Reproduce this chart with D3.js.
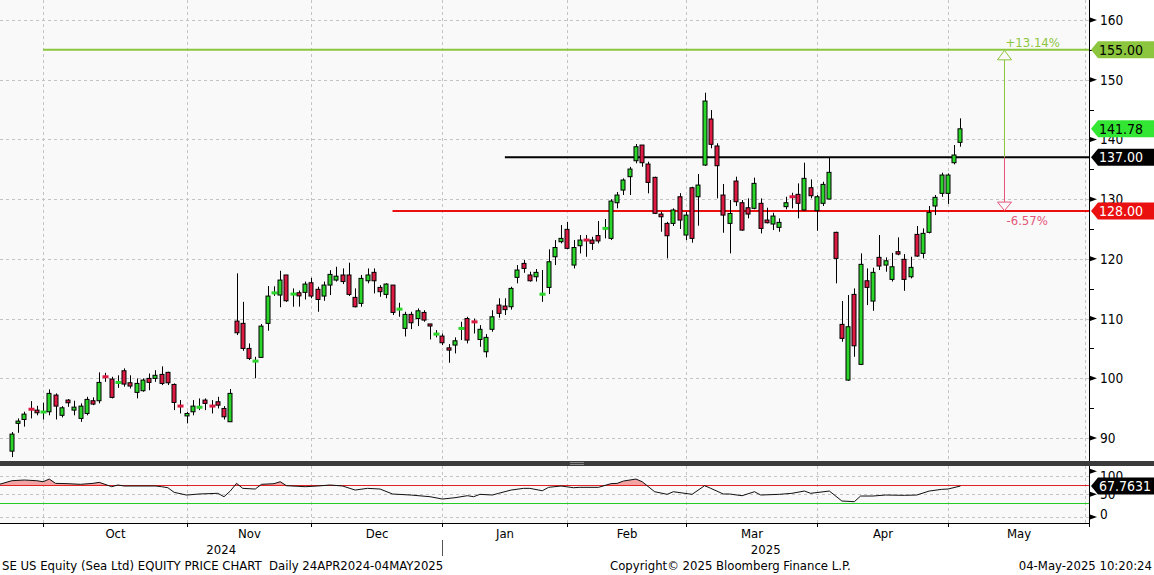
<!DOCTYPE html>
<html><head><meta charset="utf-8">
<script src="https://cdn.jsdelivr.net/npm/d3@7/dist/d3.min.js"></script>
<style>
html,body{margin:0;padding:0;background:#fff;}
svg{display:block;font-family:"DejaVu Sans Condensed","DejaVu Sans",sans-serif;}
text{white-space:pre;}
</style></head><body><svg id="c" width="1154" height="575"></svg>
<script>
// ---------- data (trading-day index 0..152) ----------
const openP = [87.8,92.45,93.1,94.96,94.67,94.3,94.39,97.19,93.8,96.35,94.67,93.28,94.11,96.24,96.24,100.3,99.87,99.25,101.26,99.25,
97.64,97.92,99.98,99.98,100.65,100.99,98.97,95.5,93.7,94.39,95.1,96.35,95.5,96.07,94.95,92.72,109.58,109.2,105.0,102.8,
103.5,109.2,114.2,113.94,117.3,114.05,114.32,114.39,116.0,114.9,113.77,115.61,116.45,117.3,117.3,113.55,112.55,116.33,117.74,115.22,
114.05,115.61,111.5,108.36,110.7,110.0,111.03,109.1,107.35,107.07,105.1,105.56,108.2,110.0,109.6,106.5,104.44,108.2,112.26,112.1,
111.98,116.9,119.24,117.3,117.0,113.94,115.22,120.35,122.87,124.94,118.96,122.2,123.2,123.15,123.9,124.94,123.43,129.4,131.52,133.76,
136.43,139.06,135.88,133.65,127.5,125.94,125.94,130.4,123.99,131.91,130.4,135.71,143.42,138.9,130.69,125.94,133.03,129.4,128.56,128.46,
129.3,126.5,125.83,125.27,128.74,130.45,130.8,128.18,131.91,128.07,129.3,130.02,124.44,109.03,99.7,114.05,102.33,116.33,112.93,120.25,
118.96,116.56,121.2,119.92,117.0,124.1,120.92,124.44,128.85,130.97,130.97,136.1,139.51];
const highP = [91.0,93.28,94.4,96.18,95.39,95.9,98.14,97.47,95.34,96.52,96.24,95.8,96.9,96.8,100.99,100.92,100.25,100.5,101.66,100.5,
99.98,99.98,100.8,101.35,102.0,101.1,99.14,96.35,94.39,96.35,96.63,96.63,96.35,96.9,95.34,98.2,117.57,112.8,105.84,103.6,
109.1,115.44,115.4,118.0,117.3,115.05,114.7,116.2,116.83,115.33,116.2,118.1,118.68,118.4,119.35,115.05,117.3,118.4,118.4,115.6,
115.9,115.61,112.65,111.14,111.14,111.7,111.4,109.1,108.07,107.5,105.73,106.85,109.47,110.3,110.0,108.9,107.4,111.4,113.4,113.4,
115.33,118.96,119.8,117.85,118.3,118.13,121.6,123.15,125.66,126.2,123.15,123.99,124.0,123.7,126.33,126.67,130.0,131.2,133.48,135.4,
139.23,139.06,136.27,133.76,127.89,126.2,128.46,131.0,127.89,132.08,134.2,147.82,144.92,139.35,132.53,129.85,133.76,129.85,130.13,133.6,
130.13,128.56,127.72,126.78,130.4,131.07,132.64,136.1,133.3,130.69,132.92,136.94,124.54,112.93,113.94,115.05,120.92,118.4,118.52,123.99,
120.25,121.0,123.6,120.8,120.35,125.5,125.1,128.85,130.69,134.43,134.32,139.06,143.53];
const lowP = [86.8,90.87,91.9,93.28,93.8,93.1,93.8,93.1,93.45,95.22,93.8,92.7,93.8,95.5,95.8,99.4,96.63,98.4,98.6,98.3,
96.63,97.75,98.0,99.4,98.86,98.86,94.67,94.11,92.45,93.8,94.67,94.67,94.11,94.95,93.1,92.72,107.24,104.6,103.05,100.0,
103.4,107.96,113.8,111.9,112.8,111.98,112.0,113.2,113.4,111.14,112.98,113.94,116.2,115.78,113.77,111.88,111.98,115.9,114.22,113.65,
113.4,110.6,110.3,107.0,108.24,108.74,109.47,106.5,106.85,105.56,102.6,104.17,106.4,105.84,107.5,105.28,103.5,107.8,110.14,110.6,
111.5,115.9,117.67,116.2,116.2,112.8,114.1,118.96,122.6,121.6,118.4,120.9,120.35,121.5,122.6,123.43,123.15,128.46,130.69,130.69,
136.0,135.43,130.97,127.5,124.54,120.08,125.5,125.0,123.15,122.7,125.55,135.55,138.51,130.13,124.37,120.92,128.85,124.7,126.78,128.3,
124.26,125.94,124.82,124.54,128.3,128.46,126.78,128.07,130.13,124.7,128.85,129.96,115.9,106.12,99.58,103.6,102.21,112.26,111.3,118.13,
117.85,116.2,120.6,114.65,116.73,120.35,120.08,124.27,127.33,130.4,129.2,135.82,138.78];
const closeP = [90.65,92.83,94.0,94.67,94.22,94.4,97.47,95.34,95.06,95.9,95.17,95.34,96.46,95.68,99.31,100.2,96.8,99.35,99.03,98.7,
99.14,99.7,99.31,100.5,99.14,99.25,95.96,95.2,94.11,95.34,95.2,95.8,95.2,95.5,93.55,97.47,107.62,105.0,103.33,102.95,
108.74,113.77,114.4,116.45,112.98,114.15,113.8,115.78,113.77,113.2,115.61,117.4,117.1,116.2,114.05,111.98,116.73,117.3,116.33,114.5,
115.78,111.03,111.65,110.7,109.3,111.3,109.75,108.75,107.45,105.95,104.72,106.28,108.5,106.4,109.3,108.2,106.85,110.3,110.87,111.5,
115.05,118.13,118.4,116.33,117.74,114.22,119.52,121.9,123.43,121.76,121.9,123.15,123.1,122.6,123.0,125.27,129.68,130.69,133.2,135.04,
138.78,136.1,132.8,127.62,127.05,123.87,128.18,126.5,127.33,123.43,132.36,146.43,139.18,135.6,127.33,127.6,129.57,124.82,127.5,132.64,
125.1,126.05,127.17,126.11,129.4,130.35,129.3,133.48,130.57,130.4,132.47,134.49,120.08,106.68,108.63,105.44,119.08,115.22,117.74,118.8,
119.68,118.68,120.8,116.56,118.57,120.47,124.27,127.78,130.3,134.04,134.04,137.39,141.78];

// RSI readings (index, value)
const rsiIdx = [-2,0,2,4,5,6,7,9,11,13,14,16,17,18,23,24,25,26,28,30,33,34,35,36,37,39,40,42,43,44,47,49,51,53,55,57,59,61,64,67,69,71,73,74,75,77,78,80,82,83,85,86,88,90,91,94,96,97,98,100,101,103,105,106,109,111,112,114,115,117,119,120,123,125,127,128,131,133,135,136,138,140,143,145,147,149,150,152];
const rsiVal = [71.5,79.4,80.9,79.4,77.2,83,73.6,72.9,71.5,73.6,75.8,66.3,70,67.8,67.8,66.3,64.1,54,48,50.3,51.8,44.4,56.8,73.6,62.7,61.2,71.5,72.9,77.2,68.5,66.3,67.8,70,67.8,59,62.7,61.2,50.3,48,44.4,39.3,42.2,46.6,44.4,49.6,48.1,51.8,59,62.7,62.7,57.5,64.9,67.8,64.1,64.9,64.9,72.9,73.6,78.7,83,77.2,55.3,49.6,55.3,49.6,68.5,62.7,50.3,50.3,46.6,55.3,48.1,49.6,51.8,56.8,51.8,56.8,35,33.5,45.9,45.9,48.1,47.4,48.1,56.8,60.5,61.2,67.7631];
const rsiLast = 67.7631;
const rsiBands = [70, 30];
const rsiTicks = [100, 50, 0];
const rsiGrid = [90, 50, 0];

const monthLabels = ["Oct","Nov","Dec","Jan","Feb","Mar","Apr","May"];
const monthGridIdx = [5, 28, 48, 69, 89, 108, 129, 150];
const yearLabels = ["2024","2025"];
const yearSplitMonth = 3; // "Jan" starts 2025

const priceTicks = [90,100,110,120,130,140,150,160];
const minorTicks = [95,105,115,125,135,145,155];

const levelValues = [155, 137, 128];
const levelStartIdx = [5, 79, 61];
const refLevel = 137;
const arrowIdx = 159;

const titleText = "SE US Equity (Sea Ltd) EQUITY PRICE CHART  Daily 24APR2024-04MAY2025";
const copyText = "Copyright\u00A9 2025 Bloomberg Finance L.P.";
const stampText = "04-May-2025 10:20:24";

// ---------- layout ----------
const W = 1154, H = 575;
const plotL = 0, plotR = 1089;
const mainTop = 0, mainBot = 461;
const sepH = 5;
const rsiTop = 466, rsiBot = 523;

const C = {
  up:"#29d629", down:"#dc1a42", edge:"#000", grid:"#c4c4c4", bg:"#f9f9f9",
  lime:"#8cc63e", red:"#ea1010", pink:"#e4577a", rsiRed:"#e02222", rsiGreen:"#22cc22",
  fill:"#f3a3a3", tagGreen:"#33e633"
};

const svg = d3.select("#c");
const x = d3.scaleLinear().domain([-1.9, 172.6]).range([plotL, plotR]);
const y = d3.scaleLinear().domain([90, 160]).range([438, 20]);
const yr = d3.scaleLinear().domain([0, 100]).range([517, 471.3]);

// backgrounds
svg.append("rect").attr("x",0).attr("y",0).attr("width",W).attr("height",H).attr("fill","#fff");
svg.append("rect").attr("x",plotL).attr("y",mainTop).attr("width",plotR-plotL).attr("height",mainBot-mainTop).attr("fill",C.bg);
svg.append("rect").attr("x",plotL).attr("y",rsiTop).attr("width",plotR-plotL).attr("height",rsiBot-rsiTop).attr("fill",C.bg);

// grids
const g = svg.append("g").attr("stroke",C.grid).attr("stroke-width",1).attr("stroke-dasharray","3,3");
priceTicks.forEach(v=>{
  const yy = Math.round(y(v))+0.5;
  g.append("line").attr("x1",plotL).attr("x2",plotR).attr("y1",yy).attr("y2",yy);
});
rsiGrid.forEach(v=>{
  const yy = Math.round(yr(v))+0.5;
  g.append("line").attr("x1",plotL).attr("x2",plotR).attr("y1",yy).attr("y2",yy);
});
const gridXs = monthGridIdx.map(i=>Math.round(x(i))+0.5).concat([plotR-3.5]);
gridXs.forEach(xx=>{
  g.append("line").attr("x1",xx).attr("x2",xx).attr("y1",mainTop).attr("y2",mainBot);
  g.append("line").attr("x1",xx).attr("x2",xx).attr("y1",rsiTop).attr("y2",rsiBot);
});

// clips
svg.append("clipPath").attr("id","mainClip").append("rect")
  .attr("x",plotL).attr("y",mainTop).attr("width",plotR-plotL).attr("height",mainBot-mainTop);
svg.append("clipPath").attr("id","rsiClip").append("rect")
  .attr("x",plotL).attr("y",rsiTop).attr("width",plotR-plotL).attr("height",rsiBot-rsiTop);

// level lines
const levelColors = [C.lime, "#000", C.red];
const lv = svg.append("g").attr("clip-path","url(#mainClip)");
levelValues.forEach((v,k)=>{
  lv.append("line").attr("x1",x(levelStartIdx[k])).attr("x2",plotR)
    .attr("y1",y(v)).attr("y2",y(v)).attr("stroke",levelColors[k]).attr("stroke-width",2);
});

// candles
const cg = svg.append("g").attr("clip-path","url(#mainClip)");
const bw = 5;
d3.range(closeP.length).forEach(i=>{
  const cx = Math.round(x(i));
  const o = openP[i], c = closeP[i], h = highP[i], l = lowP[i];
  const up = c >= o;
  cg.append("line").attr("x1",cx+0.5).attr("x2",cx+0.5).attr("y1",y(h)).attr("y2",y(l))
    .attr("stroke",C.edge).attr("stroke-width",1);
  const top = y(Math.max(o,c)), bot = y(Math.min(o,c));
  if (bot - top < 2) {
    cg.append("rect").attr("x",cx-2.5).attr("y",(top+bot)/2-1.5).attr("width",bw+1).attr("height",3)
      .attr("fill", up ? C.up : C.down);
  } else {
    cg.append("rect").attr("x",cx-2).attr("y",top).attr("width",bw-1).attr("height",bot-top)
      .attr("fill", up ? C.up : C.down).attr("stroke",C.edge).attr("stroke-width",1);
  }
});

// arrow with percentages
const ax = Math.round(x(arrowIdx))+0.5;
const ag = svg.append("g");
ag.append("line").attr("x1",ax).attr("x2",ax).attr("y1",y(levelValues[0])+10).attr("y2",y(refLevel))
  .attr("stroke",C.lime).attr("stroke-width",1);
ag.append("line").attr("x1",ax).attr("x2",ax).attr("y1",y(refLevel)).attr("y2",y(levelValues[2])-9)
  .attr("stroke",C.pink).attr("stroke-width",1);
const tUp = y(levelValues[0]);
ag.append("path").attr("d",`M${ax},${tUp+0.5} L${ax-7},${tUp+10} L${ax+7},${tUp+10} Z`)
  .attr("fill",C.bg).attr("stroke",C.lime).attr("stroke-width",1);
const tDn = y(levelValues[2]);
ag.append("path").attr("d",`M${ax},${tDn-0.5} L${ax-7},${tDn-9} L${ax+7},${tDn-9} Z`)
  .attr("fill",C.bg).attr("stroke",C.pink).attr("stroke-width",1);
const pctUp = (levelValues[0]/refLevel-1)*100, pctDn = (levelValues[2]/refLevel-1)*100;
ag.append("text").attr("x",ax+1).attr("y",tUp-2.5).attr("font-size",13).attr("fill",C.lime)
  .text("+"+pctUp.toFixed(2)+"%");
ag.append("text").attr("x",ax+2).attr("y",tDn+14).attr("font-size",13).attr("fill",C.pink)
  .text(pctDn.toFixed(2)+"%");

// RSI panel
const rg = svg.append("g").attr("clip-path","url(#rsiClip)");
svg.append("clipPath").attr("id","rsiAbove").append("rect")
  .attr("x",plotL).attr("y",rsiTop).attr("width",plotR-plotL).attr("height",yr(rsiBands[0])-rsiTop);
const pts = rsiIdx.map((d,k)=>[d, rsiVal[k]]);
rg.append("g").attr("clip-path","url(#rsiAbove)").append("path")
  .attr("d", d3.area().x(d=>x(d[0])).y0(yr(rsiBands[0])).y1(d=>yr(d[1]))(pts))
  .attr("fill",C.fill);
rg.append("line").attr("x1",plotL).attr("x2",plotR).attr("y1",Math.round(yr(rsiBands[0]))+0.5).attr("y2",Math.round(yr(rsiBands[0]))+0.5)
  .attr("stroke",C.rsiRed).attr("stroke-width",1);
rg.append("line").attr("x1",plotL).attr("x2",plotR).attr("y1",Math.round(yr(rsiBands[1]))+0.5).attr("y2",Math.round(yr(rsiBands[1]))+0.5)
  .attr("stroke",C.rsiGreen).attr("stroke-width",1);
rg.append("path").attr("d", d3.line().x(d=>x(d[0])).y(d=>yr(d[1]))(pts))
  .attr("fill","none").attr("stroke","#111").attr("stroke-width",1);

// separator band
svg.append("rect").attr("x",0).attr("y",mainBot).attr("width",W).attr("height",sepH).attr("fill","#3b3b3b");
const hx = W/2;
[mainBot+1.5, mainBot+3.5].forEach(yy=>{
  svg.append("line").attr("x1",hx-7).attr("x2",hx+7).attr("y1",yy).attr("y2",yy).attr("stroke","#9a9a9a").attr("stroke-width",0.8);
});

// right axis
const axX = plotR + 0.5;
svg.append("line").attr("x1",axX).attr("x2",axX).attr("y1",0).attr("y2",mainBot).attr("stroke","#000");
svg.append("line").attr("x1",axX).attr("x2",axX).attr("y1",rsiTop).attr("y2",rsiBot).attr("stroke","#000");
const ra = svg.append("g");
function tri(yy){ return `M${plotR+1},${yy-2.5} L${plotR+8},${yy} L${plotR+1},${yy+2.5} Z`; }
priceTicks.forEach(v=>{
  const yy = y(v);
  ra.append("path").attr("d",tri(yy)).attr("fill","#000");
  ra.append("text").attr("x",plotR+11).attr("y",yy+5).attr("font-size",13.5).attr("fill","#000").text(v);
});
minorTicks.forEach(v=>{
  const yy = Math.round(y(v))+0.5;
  ra.append("line").attr("x1",plotR).attr("x2",plotR+5).attr("y1",yy).attr("y2",yy).attr("stroke","#000");
});
rsiTicks.forEach(v=>{
  const yy = yr(v);
  ra.append("path").attr("d",tri(yy)).attr("fill","#000");
  ra.append("text").attr("x",plotR+11).attr("y",yy+(v===100?10:(v===0?2:5))).attr("font-size",13.5).attr("fill","#000").text(v);
});

// tags
function tag(yc, txt, bg, fg){
  const h2 = 8.5;
  svg.append("path").attr("d",`M${plotR+2},${yc} L${plotR+9},${yc-h2} L${W},${yc-h2} L${W},${yc+h2} L${plotR+9},${yc+h2} Z`)
    .attr("fill",bg);
  svg.append("text").attr("x",plotR+10).attr("y",yc+5).attr("font-size",14).attr("fill",fg).text(txt);
}
tag(y(levelValues[0]), levelValues[0].toFixed(2), C.lime, "#000");
tag(y(closeP[closeP.length-1]), closeP[closeP.length-1].toFixed(2), C.tagGreen, "#000");
tag(y(levelValues[1]), levelValues[1].toFixed(2), "#000", "#fff");
tag(y(levelValues[2]), levelValues[2].toFixed(2), C.red, "#fff");
tag(yr(rsiLast), rsiLast.toFixed(4), "#000", "#fff");

// bottom x axis
svg.append("line").attr("x1",0).attr("x2",plotR+1).attr("y1",rsiBot+0.5).attr("y2",rsiBot+0.5).attr("stroke","#000");
const xs = monthGridIdx.map(i=>Math.round(x(i))+0.5).concat([plotR+0.5]);
xs.forEach(xx=>{
  svg.append("line").attr("x1",xx).attr("x2",xx).attr("y1",rsiBot).attr("y2",rsiBot+4).attr("stroke","#000");
});
monthLabels.forEach((m,k)=>{
  const cx = (xs[k]+xs[k+1])/2;
  svg.append("text").attr("x",cx).attr("y",538).attr("text-anchor","middle").attr("font-size",13).attr("fill","#000").text(m);
});
const splitX = xs[yearSplitMonth];
svg.append("text").attr("x",(0+splitX)/2).attr("y",554).attr("text-anchor","middle").attr("font-size",13).text(yearLabels[0]);
svg.append("text").attr("x",(splitX+plotR)/2).attr("y",554).attr("text-anchor","middle").attr("font-size",13).text(yearLabels[1]);
svg.append("line").attr("x1",splitX).attr("x2",splitX).attr("y1",540).attr("y2",556).attr("stroke","#555");

// footer
svg.append("text").attr("x",2).attr("y",570).attr("font-size",13).attr("fill","#000").text(titleText);
svg.append("text").attr("x",610).attr("y",570).attr("font-size",13).attr("fill","#000").text(copyText);
svg.append("text").attr("x",W-2).attr("y",570).attr("text-anchor","end").attr("font-size",13).attr("fill","#000").text(stampText);
</script></body></html>
